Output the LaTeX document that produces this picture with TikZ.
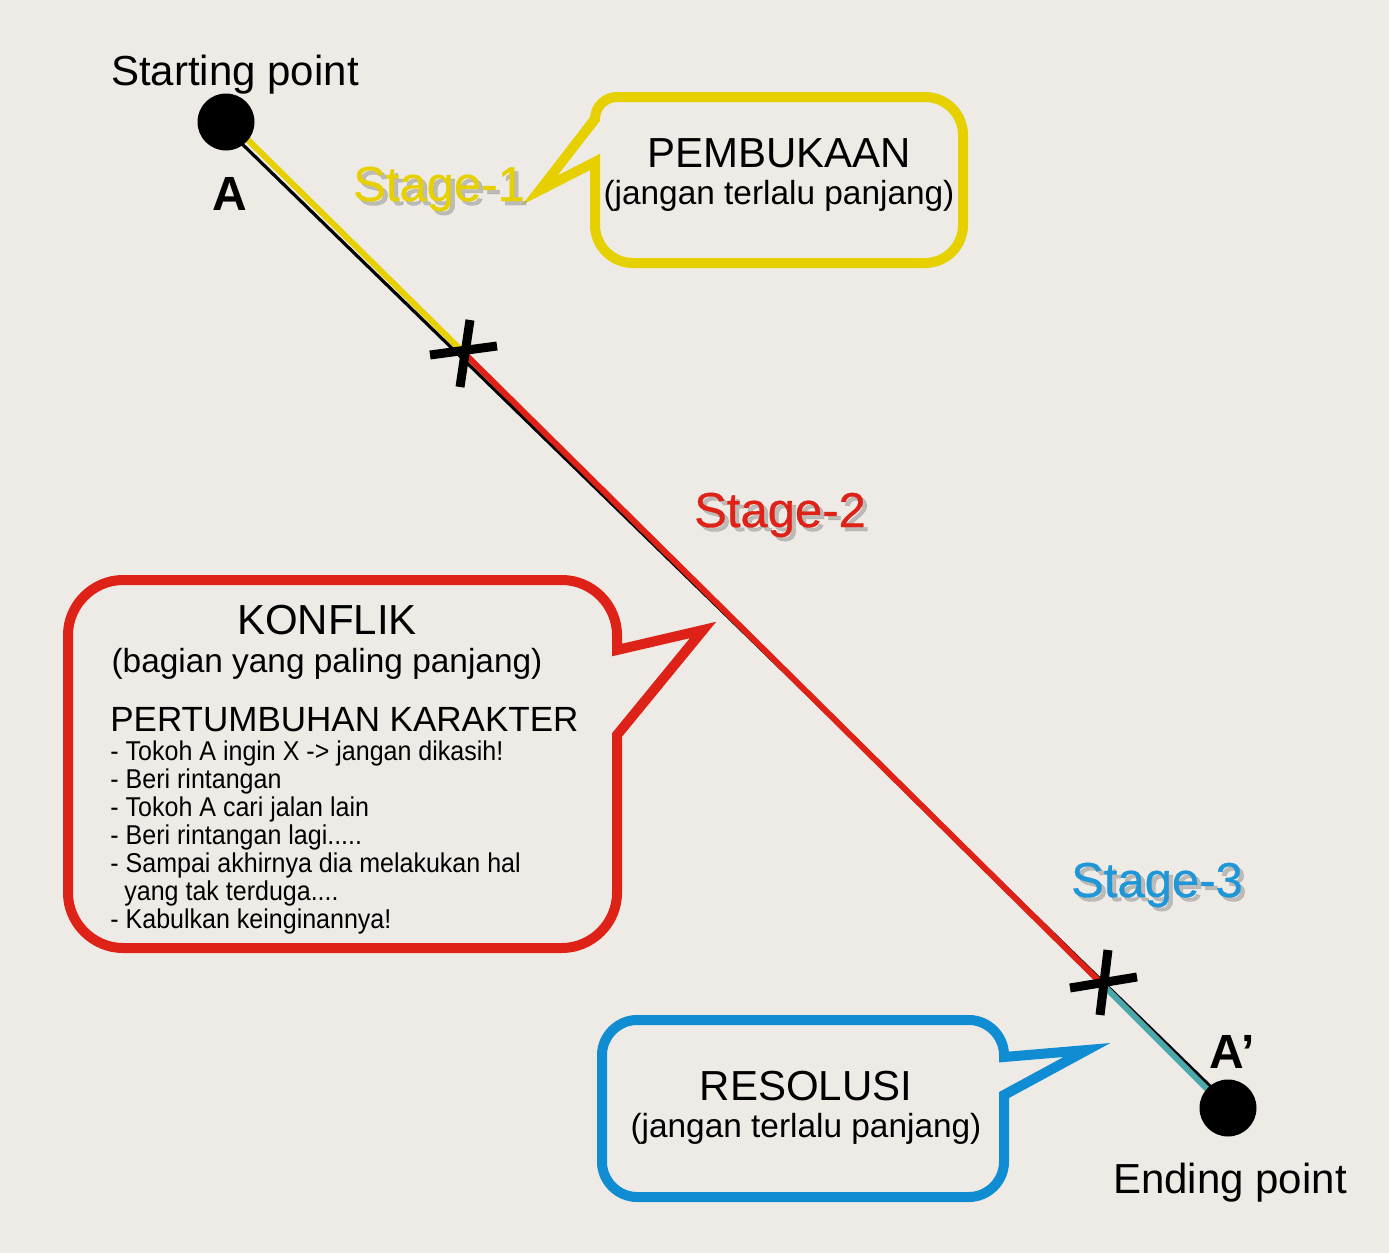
\documentclass[tikz,border=0pt]{standalone}
\usepackage{fontspec}
\setmainfont{Liberation Sans}
\newfontfamily\narrowfont[FakeStretch=0.92]{Liberation Sans}
\newfontfamily\stagefont[FakeBold=0.6]{Liberation Sans}
\definecolor{bgc}{RGB}{238,235,230}
\definecolor{yel}{RGB}{230,208,0}
\definecolor{redc}{RGB}{222,34,24}
\definecolor{bluec}{RGB}{16,140,210}
\definecolor{tealc}{RGB}{74,168,170}
\definecolor{stblue}{RGB}{30,150,215}
\tikzset{
  callout/.style={line width=5pt, line join=miter, fill=bgc},
  txt/.style={inner sep=0pt, anchor=base, text=black},
  bigtxt/.style={txt, font=\fontsize{21}{25}\selectfont},
  subtxt/.style={txt, font=\fontsize{16.7}{20}\selectfont},
  listtxt/.style={inner sep=0pt, anchor=base west, font=\narrowfont\fontsize{13.6}{14}\selectfont},
  lettertxt/.style={txt, font=\bfseries\fontsize{24}{28}\selectfont},
  stagetxt/.style={inner sep=0pt, anchor=base, font=\stagefont\fontsize{24.5}{28}\selectfont},
  xmark/.style={line width=4.5pt, black, line cap=butt},
  dot/.style={circle, fill=black, minimum size=28.5pt, inner sep=0pt}
}
\begin{document}
\begin{tikzpicture}[x=0.5pt,y=-0.5pt]
\fill[bgc] (0,0) rectangle (1389,1253);
\useasboundingbox (0,0) rectangle (1389,1253);

% callouts
\draw[callout, draw=yel] (595,162) -- (595,225) .. controls (595,246) and (612,263) .. (633,263)
  -- (925,263) .. controls (946,263) and (963,246) .. (963,225)
  -- (963,135) .. controls (963,114) and (946,97) .. (925,97)
  -- (617,97) .. controls (605,97) and (595,107) .. (595,119)
  -- (540,190) -- cycle;
\draw[callout, draw=redc] (617,735) -- (617,893) .. controls (617,923) and (592,948) .. (562,948)
  -- (123,948) .. controls (93,948) and (68,923) .. (68,893)
  -- (68,635) .. controls (68,605) and (93,580) .. (123,580)
  -- (562,580) .. controls (592,580) and (617,605) .. (617,635)
  -- (617,650) -- (703,630) -- cycle;
\draw[callout, draw=bluec] (1004,1095) -- (1004,1162) .. controls (1004,1181) and (988,1197) .. (969,1197)
  -- (637,1197) .. controls (618,1197) and (602,1181) .. (602,1162)
  -- (602,1055) .. controls (602,1036) and (618,1020) .. (637,1020)
  -- (969,1020) .. controls (988,1020) and (1004,1036) .. (1004,1055)
  -- (1004,1057) -- (1087,1050) -- cycle;

% main line
\coordinate (bS) at (236,138);
\coordinate (bE) at (1214,1090);
\coordinate (cS) at (240,132);
\coordinate (x1) at (463,352);
\coordinate (x2) at (1103,985);
\coordinate (cE) at (1214,1096);
\draw[line width=1.6pt, black] (bS) -- (bE);
\draw[line width=3pt, yel] (cS) -- (x1);
\draw[line width=3pt, redc] (x1) -- (x2);
\draw[line width=3pt, tealc] (x2) -- (cE);

% X marks
\draw[xmark] (430,355) -- (497,346);
\draw[xmark] (470,320) -- (460,387);
\draw[xmark] (1070,988) -- (1137,977);
\draw[xmark] (1108,950) -- (1100,1015);

% dots
\node[dot] (A) at (226,122) {};
\node[dot] (Ap) at (1228,1108) {};

% labels
\node[bigtxt] (start) at (235,85) {Starting point};
\node[lettertxt] (lblA) at (230,210) {A};
\node[lettertxt] (lblAp) at (1232,1068) {A’};
\node[bigtxt] (end) at (1230,1193) {Ending point};

% stage labels with shadow
\node[stagetxt, text=black!55, opacity=0.4] (s1sh) at (443,205) {Stage-1};
\node[stagetxt, text=yel] (s1) at (439,201) {Stage-1};
\node[stagetxt, text=black!55, opacity=0.4] (s2sh) at (784,531) {Stage-2};
\node[stagetxt, text=redc] (s2) at (780,527) {Stage-2};
\node[stagetxt, text=black!55, opacity=0.4] (s3sh) at (1161,901) {Stage-3};
\node[stagetxt, text=stblue] (s3) at (1157,897) {Stage-3};

% yellow callout text
\node[bigtxt] (pemb) at (779,167) {PEMBUKAAN};
\node[subtxt] (pembsub) at (779,204) {(jangan terlalu panjang)};

% red callout text
\node[bigtxt] (konf) at (327,634) {KONFLIK};
\node[subtxt] (konfsub) at (327,672) {(bagian yang paling panjang)};
\node[inner sep=0pt, anchor=base west, font=\fontsize{17.5}{20}\selectfont] (pert) at (110,731) {PERTUMBUHAN KARAKTER};
\node[listtxt] (l1) at (110,760) {- Tokoh A ingin X -> jangan dikasih!};
\node[listtxt] (l2) at (110,788) {- Beri rintangan};
\node[listtxt] (l3) at (110,816) {- Tokoh A cari jalan lain};
\node[listtxt] (l4) at (110,844) {- Beri rintangan lagi.....};
\node[listtxt] (l5) at (110,872) {- Sampai akhirnya dia melakukan hal};
\node[listtxt] (l6) at (124,900) {yang tak terduga....};
\node[listtxt] (l7) at (110,928) {- Kabulkan keinginannya!};

% blue callout text
\node[bigtxt] (reso) at (806,1100) {RESOLUSI};
\node[subtxt] (resosub) at (806,1137) {(jangan terlalu panjang)};
\end{tikzpicture}
\end{document}
